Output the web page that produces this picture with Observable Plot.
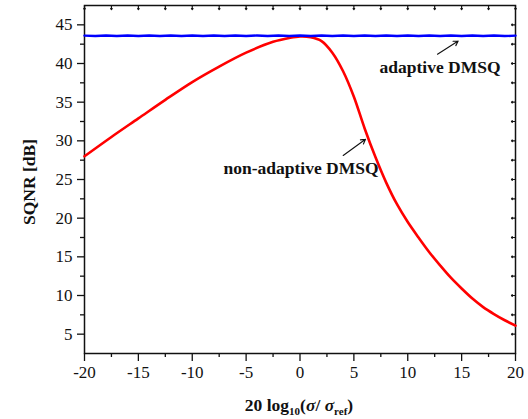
<!DOCTYPE html>
<html>
<head>
<meta charset="utf-8">
<script src="https://cdn.jsdelivr.net/npm/d3@7"></script>
<script src="https://cdn.jsdelivr.net/npm/@observablehq/plot@0.6"></script>
<style>
  html, body { margin: 0; padding: 0; background: #fff; }
  #chart svg { display: block; }
  #chart svg, #chart svg text { font-family: "Liberation Serif", serif !important; }
</style>
</head>
<body>
<div id="chart"></div>
<script>
// --- data ---
const nonAdaptiveX = [-20, -17.5, -15, -12.5, -10, -7.5, -5, -2.5, -1, 0, 1, 2, 3, 4, 5, 6, 7, 8, 9, 10, 11, 12, 13, 14, 15, 16, 17, 18, 19, 20];
const nonAdaptiveY = [28.0, 30.5, 32.9, 35.3, 37.6, 39.6, 41.4, 42.8, 43.3, 43.5, 43.4, 42.9, 41.4, 39.0, 35.7, 31.6, 27.9, 24.6, 21.8, 19.5, 17.5, 15.6, 13.9, 12.3, 10.9, 9.6, 8.5, 7.6, 6.8, 6.1];
const adaptiveX = [-20, -19, -18, -17, -16, -15, -14, -13, -12, -11, -10, -9, -8, -7, -6, -5, -4, -3, -2, -1, 0, 1, 2, 3, 4, 5, 6, 7, 8, 9, 10, 11, 12, 13, 14, 15, 16, 17, 18, 19, 20];
const adaptiveY = [43.6, 43.55, 43.62, 43.55, 43.62, 43.56, 43.62, 43.55, 43.62, 43.56, 43.62, 43.55, 43.62, 43.56, 43.62, 43.55, 43.62, 43.56, 43.62, 43.55, 43.62, 43.56, 43.62, 43.55, 43.62, 43.56, 43.62, 43.55, 43.62, 43.56, 43.62, 43.55, 43.62, 43.56, 43.62, 43.55, 43.62, 43.56, 43.62, 43.55, 43.6];
const xTicks = [-20, -15, -10, -5, 0, 5, 10, 15, 20];
const xMinorTicks = [-17.5, -12.5, -7.5, -2.5, 2.5, 7.5, 12.5, 17.5];
const yTicks = [5, 10, 15, 20, 25, 30, 35, 40, 45];
const yMinorTicks = [7.5, 12.5, 17.5, 22.5, 27.5, 32.5, 37.5, 42.5];
const labelTexts = ["adaptive DMSQ", "non-adaptive DMSQ"];
const labelX = [13.0, 0.1];
const labelY = [39.5, 26.5];
const arrowX1 = [12.76, 4.01];
const arrowY1 = [41.2, 28.1];
const arrowX2 = [14.68, 6.08];
const arrowY2 = [42.9, 30.2];
const xDomain = [-20, 20];
const yDomain = [2.5, 47.5];

const nonAdaptive = nonAdaptiveX.map((x, i) => ({x, y: nonAdaptiveY[i]}));
const adaptive = adaptiveX.map((x, i) => ({x, y: adaptiveY[i]}));
const labels = labelTexts.map((t, i) => ({t, x: labelX[i], y: labelY[i]}));
const arrows = arrowX1.map((x1, i) => ({x1, y1: arrowY1[i], x2: arrowX2[i], y2: arrowY2[i]}));

const font = "Liberation Serif, serif";

const chart = Plot.plot({
  width: 528,
  height: 419,
  marginLeft: 84,
  marginRight: 13,
  marginTop: 5,
  marginBottom: 66,
  style: {fontFamily: font, fontSize: "16px", color: "#111", background: "#fff"},
  x: {domain: xDomain},
  y: {domain: yDomain},
  marks: [
    Plot.axisX({ticks: xTicks, tickSize: 8, tickPadding: 4, tickFormat: d => String(d), label: null, fontSize: 17, strokeWidth: 1.3}),
    Plot.axisX({ticks: xMinorTicks, tickSize: 4, text: null, label: null, strokeWidth: 1.3}),
    Plot.axisY({ticks: yTicks, tickSize: 7, tickPadding: 5, label: null, fontSize: 17, strokeWidth: 1.3}),
    Plot.axisY({ticks: yMinorTicks, tickSize: 4, text: null, label: null, strokeWidth: 1.3}),
    Plot.vector(xTicks.concat(xMinorTicks), {x: d => d, y: yDomain[1], rotate: 180, length: 4, anchor: "start", stroke: "#111", strokeWidth: 1.2}),
    Plot.vector(yTicks.concat(yMinorTicks), {x: xDomain[1], y: d => d, rotate: 270, length: 4, anchor: "start", stroke: "#111", strokeWidth: 1.2}),
    Plot.frame({stroke: "#111", strokeWidth: 1.5}),
    Plot.line(nonAdaptive, {x: "x", y: "y", stroke: "#ff0000", strokeWidth: 2.6, curve: "catmull-rom"}),
    Plot.line(adaptive, {x: "x", y: "y", stroke: "#0000ff", strokeWidth: 2.4, curve: "linear"}),
    Plot.arrow(arrows, {x1: "x1", y1: "y1", x2: "x2", y2: "y2", stroke: "#111", strokeWidth: 1.1, headLength: 7}),
    Plot.text(labels, {x: "x", y: "y", text: "t", fontSize: 17.5, fontWeight: "bold", fill: "#111", textAnchor: "middle", lineAnchor: "middle"})
  ]
});

document.getElementById("chart").appendChild(chart);

const svg = d3.select(chart);
svg.append("text")
  .attr("transform", "translate(31,182) rotate(-90)")
  .attr("text-anchor", "middle")
  .attr("dominant-baseline", "middle")
  .style("font-size", "17.5px")
  .style("font-weight", "bold")
  .attr("fill", "#111")
  .text("SQNR [dB]");

const xl = svg.append("text")
  .attr("x", 299)
  .attr("y", 411)
  .attr("text-anchor", "middle")
  .style("font-size", "17.5px")
  .style("font-weight", "bold")
  .attr("fill", "#111");
xl.append("tspan").text("20 log");
xl.append("tspan").attr("dy", 4).style("font-size", "11px").text("10");
xl.append("tspan").attr("dy", -4).text("(");
xl.append("tspan").style("font-style", "italic").text("σ");
xl.append("tspan").text("/ ");
xl.append("tspan").style("font-style", "italic").text("σ");
xl.append("tspan").attr("dy", 4).style("font-size", "11px").text("ref");
xl.append("tspan").attr("dy", -4).text(")");
</script>
</body>
</html>
